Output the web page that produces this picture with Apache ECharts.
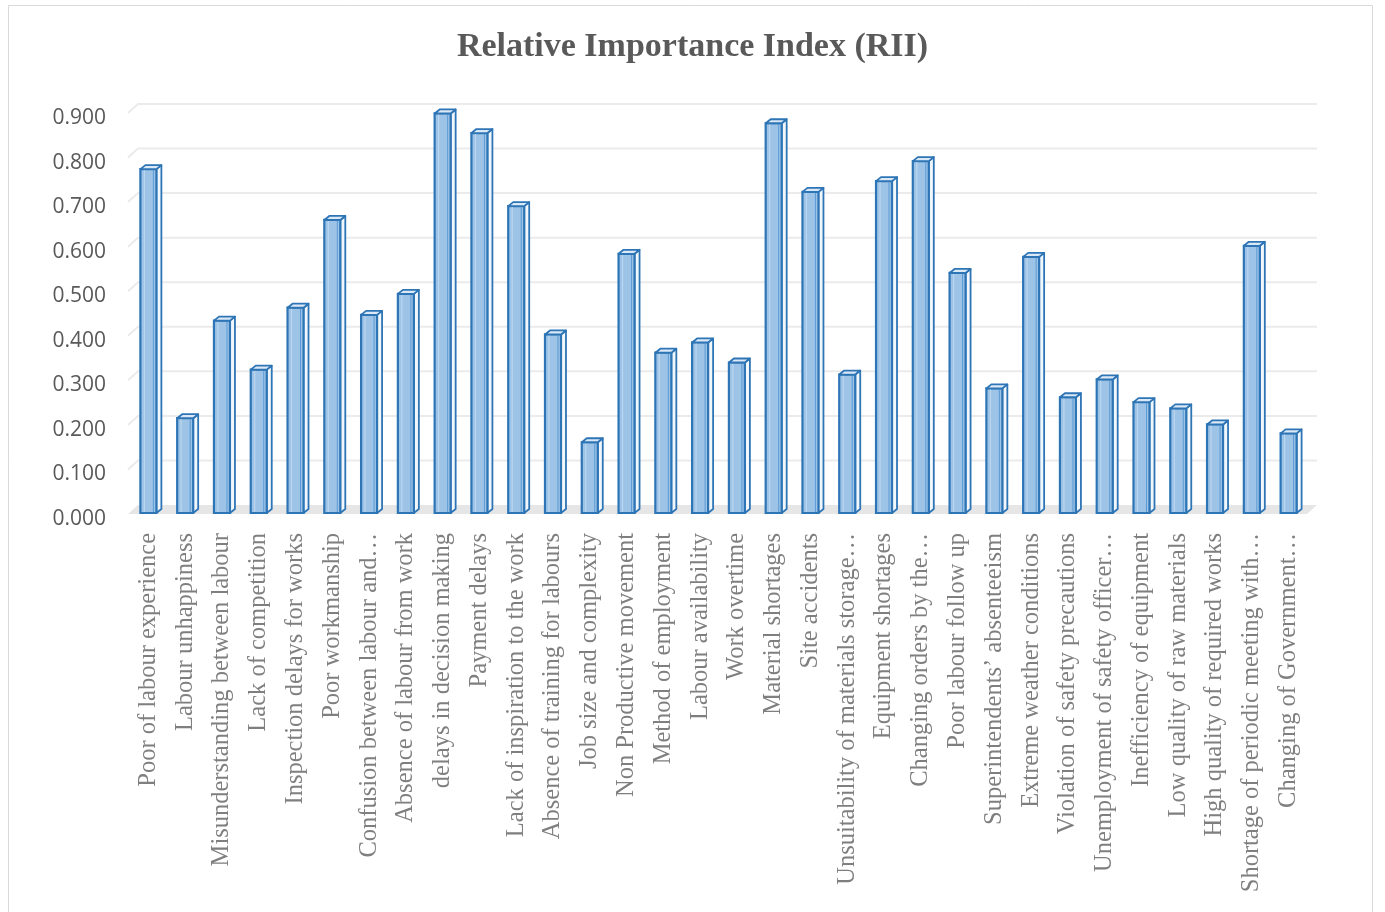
<!DOCTYPE html>
<html>
<head>
<meta charset="utf-8">
<title>Relative Importance Index (RII)</title>
<script src="https://cdn.jsdelivr.net/npm/echarts@6/dist/echarts.min.js"></script>
<style>
  html, body { margin: 0; padding: 0; background: #fff; }
  #chart { width: 1385px; height: 912px; }
</style>
</head>
<body>
<div id="chart"></div>
<script>
// 类别（因素）
var factors = [
  'Poor of labour experience', 'Labour unhappiness', 'Misunderstanding between labour',
  'Lack of competition', 'Inspection delays for works', 'Poor workmanship',
  'Confusion between labour and…', 'Absence of labour from work', 'delays in decision making',
  'Payment delays', 'Lack of inspiration to the work', 'Absence of training for labours',
  'Job size and complexity', 'Non Productive movement', 'Method of employment',
  'Labour availability', 'Work overtime', 'Material shortages', 'Site accidents',
  'Unsuitability of materials storage…', 'Equipment shortages', 'Changing orders by the…',
  'Poor labour follow up', 'Superintendents\u2019 absenteeism', 'Extreme weather conditions',
  'Violation of safety precautions', 'Unemployment of safety officer…', 'Inefficiency of equipment',
  'Low quality of raw materials', 'High quality of required works', 'Shortage of periodic meeting with…',
  'Changing of Government…'
];
// RII 数值
var rii = [
  0.774, 0.215, 0.434, 0.324, 0.463, 0.660, 0.447, 0.494, 0.899, 0.855,
  0.691, 0.403, 0.161, 0.584, 0.362, 0.385, 0.340, 0.877, 0.723, 0.313,
  0.747, 0.792, 0.541, 0.282, 0.577, 0.262, 0.302, 0.251, 0.237, 0.201,
  0.602, 0.181
];
// 背景网格线刻度
var yTicks = [0.1, 0.2, 0.3, 0.4, 0.5, 0.6, 0.7, 0.8, 0.9];

(function () {
  var myChart = echarts.init(document.getElementById('chart'));
  var DX = 10, DY = -9;          // 背板偏移
  var BW = 8, BX = 5, BY = -4;   // 柱子半宽与厚度

  var option = {
    animation: false,
    title: {
      text: 'Relative Importance Index (RII)',
      left: 'center',
      top: 25,
      textStyle: { fontFamily: 'Liberation Serif', fontWeight: 'bold', fontSize: 34, color: '#595959' }
    },
    graphic: [{
      type: 'rect',
      shape: { x: 8.5, y: 5.5, width: 1364, height: 920 },
      style: { fill: 'none', stroke: '#d9d9d9', lineWidth: 1 },
      silent: true
    }],
    grid: { left: 130, right: 78, top: 113, bottom: 398, containLabel: false },
    xAxis: {
      type: 'category',
      data: factors,
      axisLine: { show: false },
      axisTick: { show: false },
      axisLabel: {
        interval: 0,
        rotate: 90,
        margin: 19,
        fontFamily: 'Liberation Serif',
        fontSize: 24.5,
        color: '#7f7f7f'
      }
    },
    yAxis: {
      type: 'value',
      min: 0,
      max: 0.9,
      interval: 0.1,
      axisLine: { show: false },
      axisTick: { show: false },
      splitLine: { show: false },
      axisLabel: {
        margin: 24,
        verticalAlign: 'top',
        lineHeight: 10,
        fontFamily: 'Open Sans',
        fontSize: 21,
        color: '#595959',
        formatter: function (v) { return v.toFixed(3); }
      }
    },
    series: [
      {
        // 背板网格线
        type: 'custom',
        silent: true,
        clip: false,
        z: 1,
        data: yTicks.map(function (v) { return [0, v]; }),
        renderItem: function (params, api) {
          var cs = params.coordSys;
          var y = api.coord([0, api.value(1)])[1];
          return {
            type: 'polyline',
            shape: { points: [[cs.x - 2, y], [cs.x + DX - 2, y + DY], [cs.x + cs.width + DX, y + DY]] },
            style: { stroke: '#ebebeb', lineWidth: 2, fill: null }
          };
        }
      },
      {
        // 地板
        type: 'custom',
        silent: true,
        clip: false,
        z: 2,
        data: [[0, 0]],
        renderItem: function (params, api) {
          var cs = params.coordSys;
          var y = api.coord([0, 0])[1];
          return {
            type: 'polygon',
            shape: { points: [[cs.x - 2, y], [cs.x + DX - 2, y + DY], [cs.x + cs.width + DX, y + DY], [cs.x + cs.width, y]] },
            style: { fill: '#e6e6e6' }
          };
        }
      },
      {
        // 3D 柱子
        type: 'custom',
        name: 'RII',
        clip: false,
        z: 3,
        data: rii.map(function (v, i) { return [i, v]; }),
        renderItem: function (params, api) {
          var top = api.coord([api.value(0), api.value(1)]);
          var base = api.coord([api.value(0), 0]);
          var x = top[0], yt = top[1], yb = base[1] - 1;
          var stroke = '#2e75b6';
          return {
            type: 'group',
            children: [
              {
                type: 'polygon',
                shape: { points: [[x + BW, yt], [x + BW + BX, yt + BY], [x + BW + BX, yb + BY], [x + BW, yb]] },
                style: { fill: '#f2f7fc', stroke: stroke, lineWidth: 1.8, lineJoin: 'round' }
              },
              {
                type: 'rect',
                shape: { x: x - BW, y: yt, width: BW * 2, height: yb - yt },
                style: { fill: '#9dc3e6', stroke: stroke, lineWidth: 2.2 }
              },
              {
                type: 'line',
                shape: { x1: x - BW + 4, y1: yt + 1, x2: x - BW + 4, y2: yb - 1 },
                style: { stroke: '#bcd6ef', lineWidth: 1.2 }
              },
              {
                type: 'line',
                shape: { x1: x + BW - 3, y1: yt + 1, x2: x + BW - 3, y2: yb - 1 },
                style: { stroke: '#5b9bd5', lineWidth: 1 }
              },
              {
                type: 'polygon',
                shape: { points: [[x - BW, yt], [x - BW + BX, yt + BY], [x + BW + BX, yt + BY], [x + BW, yt]] },
                style: { fill: '#dbe9f6', stroke: stroke, lineWidth: 1.8, lineJoin: 'round' }
              }
            ]
          };
        }
      }
    ]
  };
  myChart.setOption(option);
})();
</script>
</body>
</html>
